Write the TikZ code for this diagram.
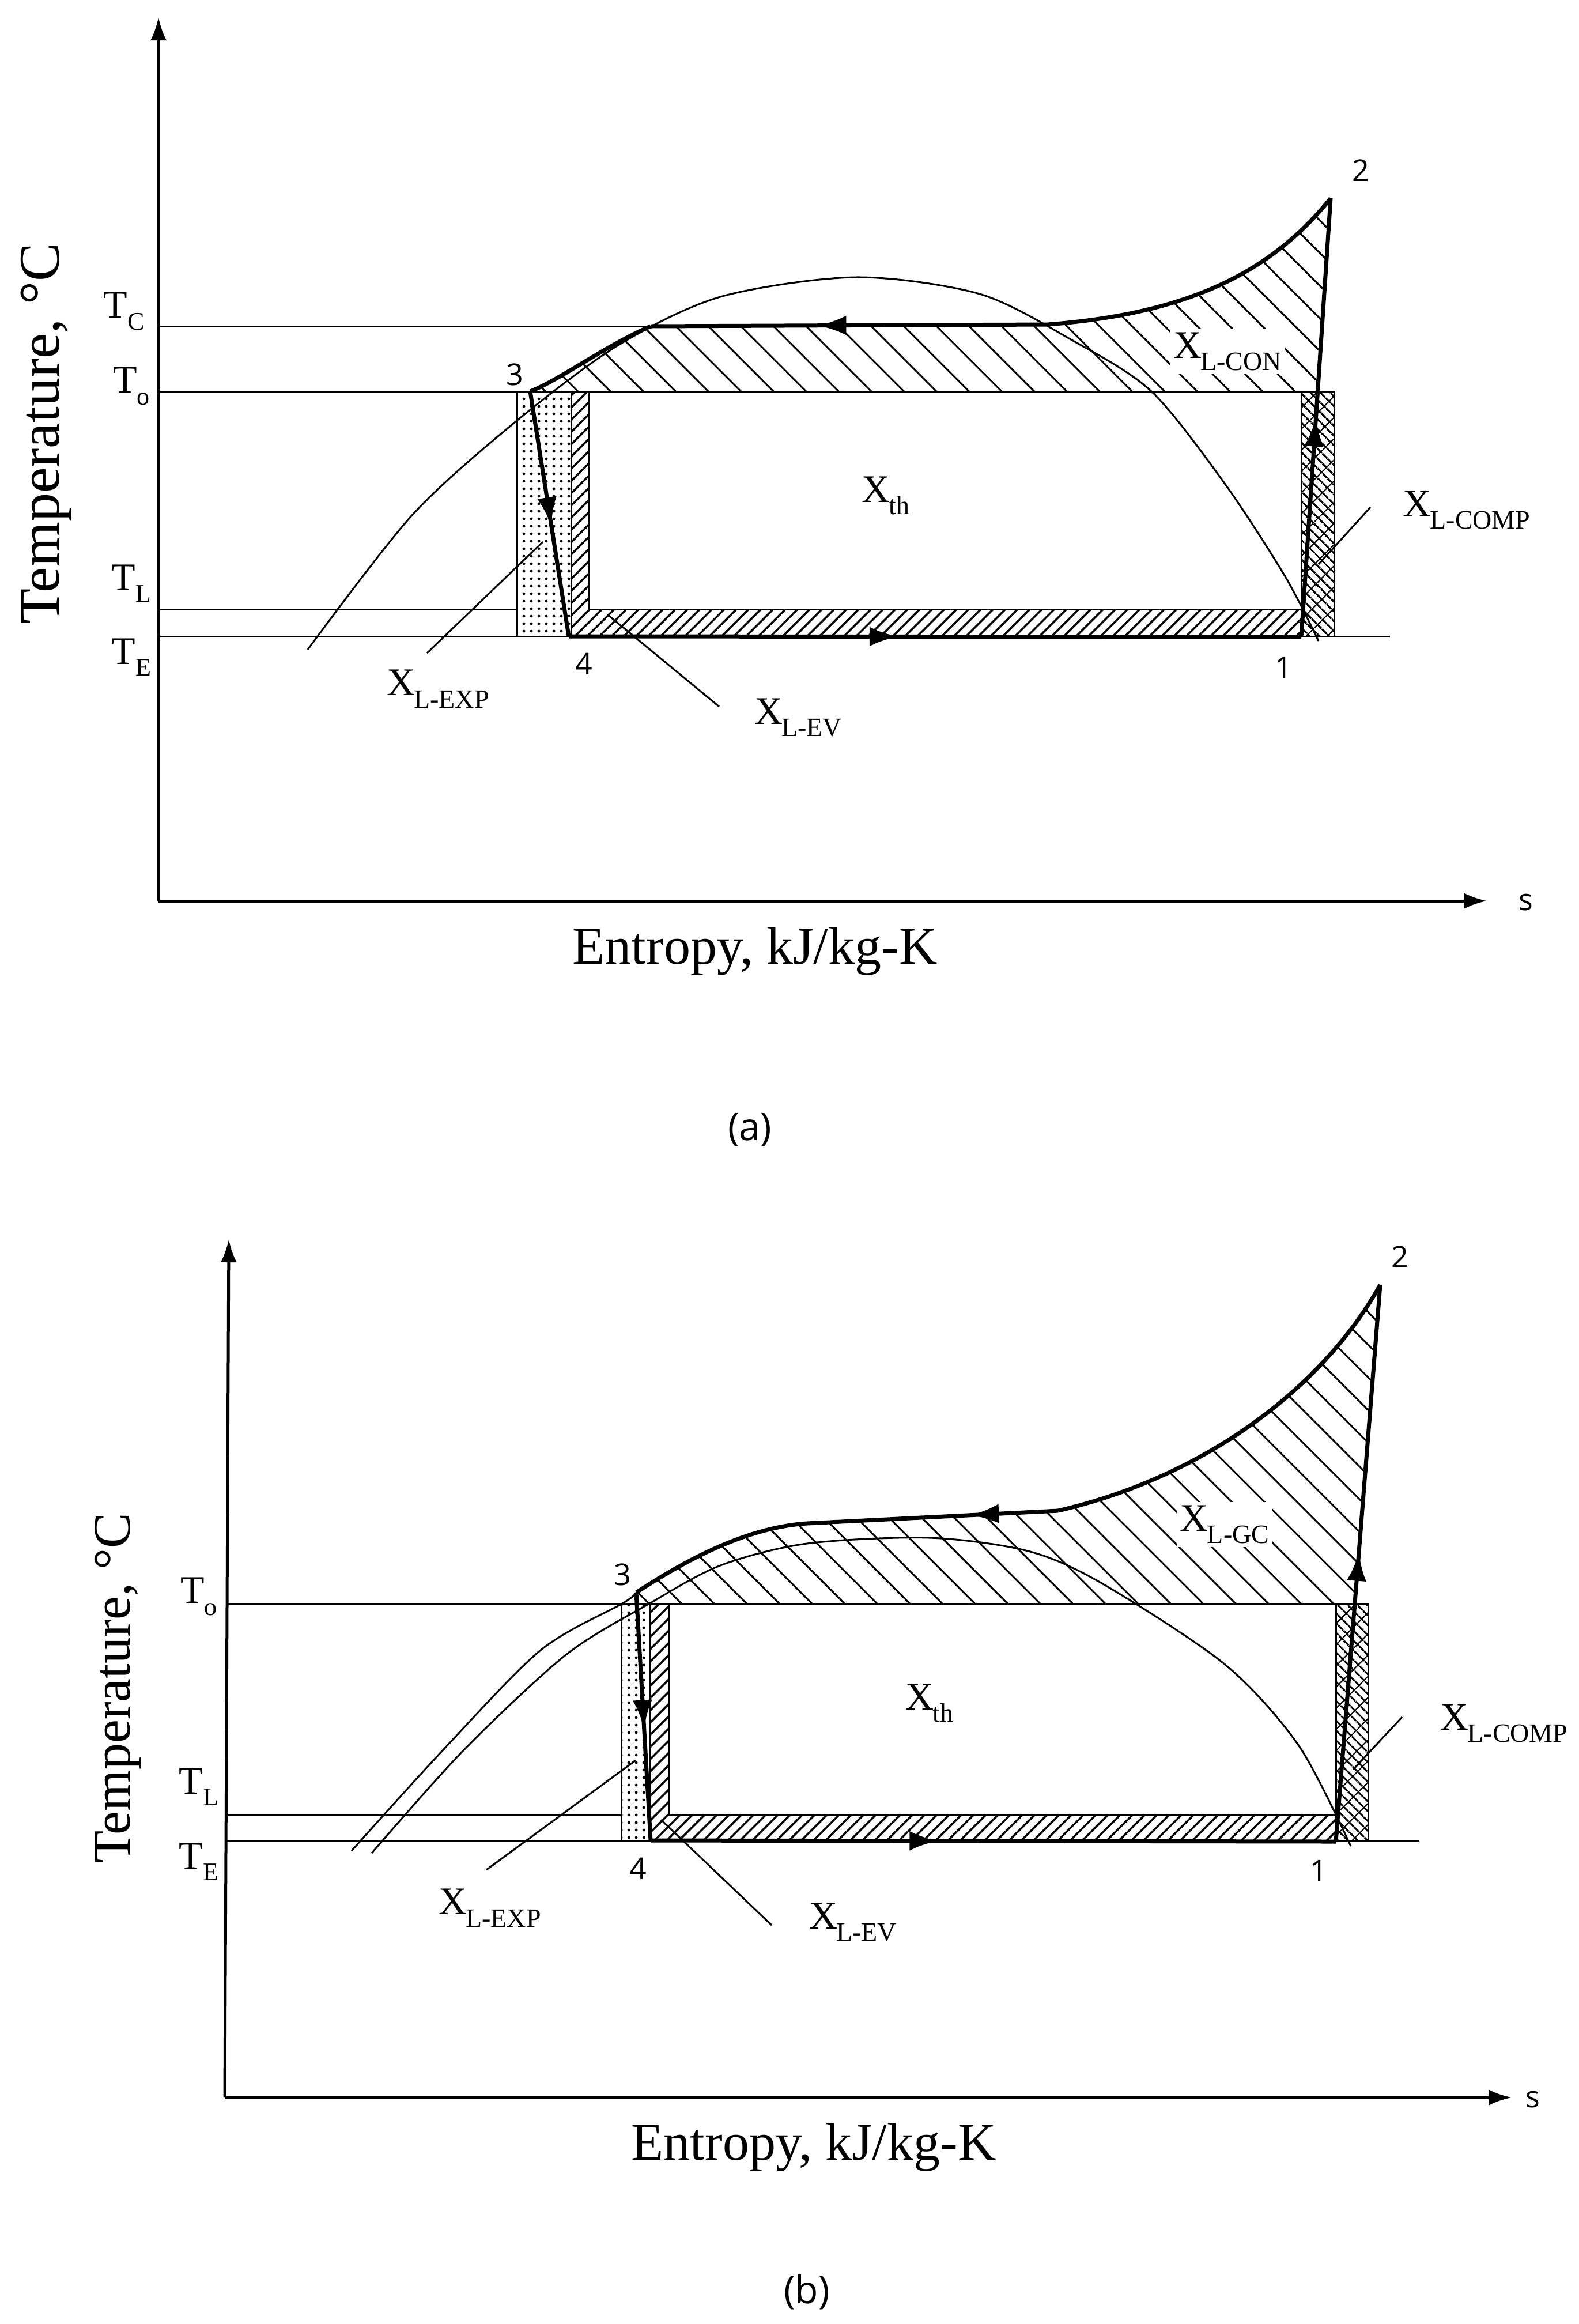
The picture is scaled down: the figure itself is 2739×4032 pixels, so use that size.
\documentclass[tikz,border=0pt]{standalone}
\usepackage{fontspec}
\setmainfont{Liberation Serif}
\newfontfamily\numfont{Open Sans}
\usetikzlibrary{patterns.meta,arrows.meta,decorations.markings}
\newcommand\xlab[1]{X\kern-2pt\raisebox{-0.32em}{\fontsize{46}{46}\selectfont #1}}
\newcommand\tlab[1]{T\raisebox{-0.3em}{\fontsize{44}{44}\selectfont #1}}
\begin{document}
\begin{tikzpicture}[x=1pt,y=-1pt,
  thin/.style={line width=3pt},
  thick/.style={line width=7pt},
  axis/.style={line width=5pt,-{Latex[length=40pt,width=28pt]}},
  lab/.style={font=\fontsize{68}{68}\selectfont,inner sep=2pt},
  biga/.style={font=\fontsize{100}{100}\selectfont},
  bigb/.style={font=\fontsize{92}{92}\selectfont},
  num/.style={font=\numfont\fontsize{52}{52}\selectfont},
  captext/.style={font=\numfont\fontsize{66}{66}\selectfont},
  hatchW/.style={pattern={Lines[angle=-45,distance=40pt,line width=3pt]}},
  hatchE/.style={pattern={Lines[angle=45,distance=15pt,line width=3.5pt]}},
  dotsP/.style={pattern={Dots[distance=13pt,radius=2.6pt]}},
  compA/.style={pattern={Lines[angle=-45,distance=13pt,line width=3.5pt]}},
  compB/.style={pattern={Lines[angle=45,distance=26pt,line width=2pt]}},
  midarrow/.style={postaction={decorate},decoration={markings,
     mark=at position #1 with {\arrow{Latex[length=50pt,width=34pt]}}}}
]
\useasboundingbox (0,0) rectangle (2739,4032);
% ================= (a) =================
\coordinate (aO) at (275,1563);
\coordinate (aYt) at (275,30);
\coordinate (aXt) at (2580,1563);
\coordinate (a1) at (2258,1105);
\coordinate (a2) at (2309,344);
\coordinate (a3) at (920,679);
\coordinate (a4) at (987,1104);
\coordinate (aJ) at (1129,566);
\coordinate (aK) at (1818,563);
\path[hatchW] (a3) .. controls (970,660) and (1050,600) .. (aJ) -- (aK) .. controls (2050,545) and (2200,480) .. (a2) -- (2287,679) -- cycle;
\path[dotsP] (897,679) rectangle (991,1104);
\draw[thin] (897,679) rectangle (991,1104);
\path[hatchE] (991,679) rectangle (1022,1057);
\path[hatchE] (991,1057) rectangle (2258,1104);
\draw[thin] (1022,679) -- (1022,1057) -- (2258,1057);
\draw[thin] (991,1057) -- (991,1104);
\path[compA] (2258,679) rectangle (2315,1104);
\path[compB] (2258,679) rectangle (2315,1104);
\draw[thin] (2258,679) rectangle (2315,1104);
\draw[thin] (aO|-aJ) -- (aJ);
\draw[thin] (275,679) -- (2315,679);
\draw[thin] (275,1057) -- (897,1057);
\draw[thin] (275,1104) -- (2412,1104);
\draw[thin] plot[smooth] coordinates {(534,1127)(714,895)(893,733)(1071,600)(1250,515)(1485,481)(1700,510)(1860,590)(1998,679)(2126,840)(2230,1000)(2288,1112)};
\draw[thick] (a3) .. controls (970,660) and (1050,600) .. (aJ);
\draw[thick,midarrow=0.58] (aK) -- (aJ);
\draw[thick] (aK) .. controls (2050,545) and (2200,480) .. (a2);
\draw[thick,midarrow=0.55] (a3) -- (a4);
\draw[thick,midarrow=0.45] (a4) -- (a1);
\draw[thick,midarrow=0.5] (a1) -- (a2);
\draw[axis] (aO) -- (aYt);
\draw[axis] (aO) -- (aXt);
\coordinate (aLe1) at (741,1133); \coordinate (aLe2) at (942,940);
\draw[thin] (aLe1) -- (aLe2);
\coordinate (aLv1) at (1054,1066); \coordinate (aLv2) at (1248,1226);
\draw[thin] (aLv1) -- (aLv2);
\coordinate (aLc1) at (2378,880); \coordinate (aLc2) at (2288,979);
\draw[thin] (aLc1) -- (aLc2);
\node[lab] (aTC) at (215,540) {\tlab{C}};
\node[lab] (aTo) at (228,670) {\tlab{o}};
\node[lab] (aTL) at (228,1012) {\tlab{L}};
\node[lab] (aTE) at (228,1140) {\tlab{E}};
\node[biga,rotate=90] (aTemp) at (80,752) {Temperature, °C};
\node[bigb] (aEnt) at (1310,1650) {Entropy, kJ/kg-K};
\node[num] (as) at (2648,1566) {s};
\node[captext] (acap) at (1301,1960) {(a)};
\node[num] (an1) at (2227,1158) {1};
\node[num] (an2) at (2361,296) {2};
\node[num] (an3) at (893,650) {3};
\node[num] (an4) at (1013,1152) {4};
\node[lab] (aXth) at (1537,860) {\xlab{th}};
\node[lab,fill=white,inner sep=6pt] (aXcon) at (2130,610) {\xlab{L-CON}};
\node[lab] (aXcomp) at (2545,885) {\xlab{L-COMP}};
\node[lab] (aXexp) at (760,1195) {\xlab{L-EXP}};
\node[lab] (aXev) at (1385,1245) {\xlab{L-EV}};
% ================= (b) =================
\coordinate (bO) at (390,3639);
\coordinate (bYt) at (397,2150);
\coordinate (bXt) at (2623,3639);
\coordinate (b1) at (2318,3195);
\coordinate (b2) at (2395,2229);
\coordinate (b3) at (1104,2763);
\coordinate (b4) at (1129,3193);
\coordinate (bJ) at (1400,2643);
\coordinate (bK) at (1836,2621);
\path[hatchW] (b3) .. controls (1200,2700) and (1300,2650) .. (bJ) -- (bK) .. controls (2100,2560) and (2300,2400) .. (b2) -- (2351,2782) -- (1104,2782) -- cycle;
\path[dotsP] (1078,2782) rectangle (1127,3193);
\draw[thin] (1078,2782) rectangle (1127,3193);
\path[hatchE] (1127,2782) rectangle (1161,3149);
\path[hatchE] (1127,3149) rectangle (2318,3193);
\draw[thin] (1161,2782) -- (1161,3149) -- (2318,3149);
\path[compA] (2318,2782) rectangle (2374,3193);
\path[compB] (2318,2782) rectangle (2374,3193);
\draw[thin] (2318,2782) rectangle (2374,3193);
\draw[thin] (394,2782) -- (2374,2782);
\draw[thin] (391,3149) -- (1078,3149);
\draw[thin] (391,3193) -- (2463,3193);
\draw[thin] plot[smooth] coordinates {(610,3211)(768,3037)(938,2863)(1080,2782)(b3)};
\draw[thin] plot[smooth] coordinates {(645,3215)(804,3037)(982,2871)(1127,2782)(1250,2716)(1400,2678)(1613,2668)(1784,2691)(1912,2747)(2126,2888)(2254,3029)(2344,3203)};
\draw[thick] (b3) .. controls (1200,2700) and (1300,2650) .. (bJ);
\draw[thick,midarrow=0.35] (bK) -- (bJ);
\draw[thick] (bK) .. controls (2100,2560) and (2300,2400) .. (b2);
\draw[thick,midarrow=0.55] (b3) -- (b4);
\draw[thick,midarrow=0.42] (b4) -- (b1);
\draw[thick,midarrow=0.52] (b1) -- (b2);
\draw[axis] (bO) -- (bYt);
\draw[axis] (bO) -- (bXt);
\coordinate (bLe1) at (844,3244); \coordinate (bLe2) at (1103,3054);
\draw[thin] (bLe1) -- (bLe2);
\coordinate (bLv1) at (1147,3157); \coordinate (bLv2) at (1339,3340);
\draw[thin] (bLv1) -- (bLv2);
\coordinate (bLc1) at (2433,2979); \coordinate (bLc2) at (2348,3070);
\draw[thin] (bLc1) -- (bLc2);
\node[lab] (bTo) at (345,2770) {\tlab{o}};
\node[lab] (bTL) at (345,3100) {\tlab{L}};
\node[lab] (bTE) at (345,3230) {\tlab{E}};
\node[bigb,rotate=90] (bTemp) at (205,2929) {Temperature, °C};
\node[bigb] (bEnt) at (1412,3725) {Entropy, kJ/kg-K};
\node[num] (bs) at (2660,3643) {s};
\node[captext] (bcap) at (1400,3977) {(b)};
\node[num] (bn1) at (2288,3246) {1};
\node[num] (bn2) at (2429,2181) {2};
\node[num] (bn3) at (1080,2732) {3};
\node[num] (bn4) at (1107,3242) {4};
\node[lab] (bXth) at (1613,2955) {\xlab{th}};
\node[lab,fill=white,inner sep=6pt] (bXgc) at (2125,2645) {\xlab{L-GC}};
\node[lab] (bXcomp) at (2610,2990) {\xlab{L-COMP}};
\node[lab] (bXexp) at (850,3310) {\xlab{L-EXP}};
\node[lab] (bXev) at (1480,3335) {\xlab{L-EV}};
\end{tikzpicture}
\end{document}
